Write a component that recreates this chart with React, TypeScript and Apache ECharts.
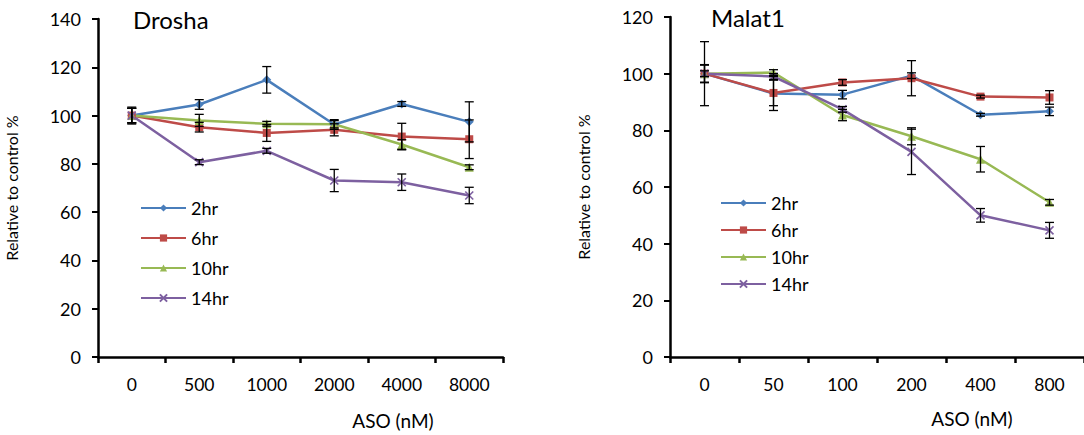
import React, { useEffect, useRef } from 'react';
import * as echarts from 'echarts';

const droshaCategories = ['0', '500', '1000', '2000', '4000', '8000'];
const malatCategories = ['0', '50', '100', '200', '400', '800'];
const seriesNames = ['2hr', '6hr', '10hr', '14hr'];

const drosha2hr = [100, 104.6, 114.8, 96.3, 104.8, 97.4];
const drosha2hrErr = [3, 2, 5.5, 2, 1, 8.3];
const drosha6hr = [100, 95.2, 92.8, 94.1, 91.3, 90.2];
const drosha6hrErr = [3, 2, 3.5, 2.5, 5.5, 8];
const drosha10hr = [100, 98, 96.6, 96.4, 88, 78.6];
const drosha10hrErr = [3, 2.5, 1, 1.5, 2, 1];
const drosha14hr = [100, 80.7, 85.4, 73.1, 72.4, 66.9];
const drosha14hrErr = [3.5, 1, 1, 4.6, 3.4, 3.4];

const malat2hr = [100, 93, 92.6, 99.3, 85.5, 86.7];
const malat2hrErr = [3.2, 6, 1.5, 1, 0.5, 1.5];
const malat6hr = [100, 93.2, 96.9, 98.4, 91.9, 91.6];
const malat6hrErr = [11.3, 4.5, 1, 6.2, 0.5, 2.4];
const malat10hr = [100, 100.4, 85.4, 77.9, 69.8, 54.6];
const malat10hrErr = [1, 1, 2, 3, 4.5, 1];
const malat14hr = [100, 99, 87.4, 72.4, 50, 44.7];
const malat14hrErr = [3, 1, 1, 8, 2.4, 2.8];

const colors = ['#4A7EBB', '#BE4B48', '#98B954', '#7D60A0'];
const symbols = ['diamond', 'rect', 'triangle', 'path://M0,0L10,10M0,10L10,0'];
const symbolSizes = [9, 8, 9, 8];
const FONT = 'Lato, "Open Sans", sans-serif';

function lineSeries(idx: number, axis: number, values: number[]) {
  return {
    type: 'line',
    name: seriesNames[idx],
    xAxisIndex: axis,
    yAxisIndex: axis,
    data: values,
    symbol: symbols[idx],
    symbolSize: symbolSizes[idx],
    showSymbol: true,
    z: 4,
    lineStyle: { color: colors[idx], width: 2.5 },
    itemStyle: { color: colors[idx], borderColor: colors[idx], borderWidth: idx === 3 ? 1.6 : 0 },
  };
}

function errorSeries(axis: number, values: number[], errs: number[]) {
  const data = values.map((v, i) => [i, v - errs[i], v + errs[i]]);
  return {
    type: 'custom',
    xAxisIndex: axis,
    yAxisIndex: axis,
    data,
    silent: true,
    z: 5,
    encode: { x: 0, y: [1, 2] },
    renderItem: (params: any, api: any) => {
      const x = api.value(0);
      const lo = api.coord([x, api.value(1)]);
      const hi = api.coord([x, api.value(2)]);
      const w = 4.5;
      const st = { stroke: '#000', lineWidth: 1.3 };
      return {
        type: 'group',
        children: [
          { type: 'line', shape: { x1: lo[0], y1: lo[1], x2: hi[0], y2: hi[1] }, style: st },
          { type: 'line', shape: { x1: lo[0] - w, y1: lo[1], x2: lo[0] + w, y2: lo[1] }, style: st },
          { type: 'line', shape: { x1: hi[0] - w, y1: hi[1], x2: hi[0] + w, y2: hi[1] }, style: st },
        ],
      };
    },
  };
}

function xAxisDef(gridIndex: number, cats: string[]) {
  return {
    type: 'category',
    gridIndex,
    data: cats,
    boundaryGap: true,
    axisLine: { show: true, lineStyle: { color: '#000', width: 2.5 } },
    axisTick: { show: true, inside: false, length: 6, alignWithLabel: false, lineStyle: { color: '#000', width: 2.5 } },
    axisLabel: { color: '#000', fontSize: 17.5, fontFamily: FONT, margin: 18 },
    splitLine: { show: false },
  };
}

function yAxisDef(gridIndex: number, max: number) {
  return {
    type: 'value',
    gridIndex,
    min: 0,
    max,
    interval: 20,
    name: 'Relative to control %',
    nameLocation: 'middle',
    nameGap: 79,
    nameTextStyle: { color: '#000', fontSize: 16, fontFamily: FONT },
    axisLine: { show: true, lineStyle: { color: '#000', width: 2.5 } },
    axisTick: { show: true, inside: false, length: 6, lineStyle: { color: '#000', width: 2 } },
    axisLabel: { color: '#000', fontSize: 18, fontFamily: FONT, margin: 17 },
    splitLine: { show: false },
  };
}

function legendDef(left: number, top: number, gap: number) {
  return {
    orient: 'vertical',
    left,
    top,
    data: seriesNames,
    itemWidth: 45,
    itemHeight: 9,
    itemGap: gap,
    padding: 0,
    textStyle: { color: '#000', fontSize: 18, fontFamily: FONT, lineHeight: 18, padding: [0, 0, 0, 0] },
  };
}

export default function App() {
  const ref = useRef<HTMLDivElement>(null);
  useEffect(() => {
    if (!ref.current) return;
    const chart = echarts.init(ref.current, undefined, { renderer: 'svg' });
    chart.setOption({
      animation: false,
      backgroundColor: '#fff',
      title: [
        { text: 'Drosha', left: 133, top: 7, padding: 0, textStyle: { fontSize: 24, fontWeight: 'normal', color: '#000', fontFamily: FONT } },
        { text: 'Malat1', left: 711, top: 5, padding: 0, textStyle: { fontSize: 24, fontWeight: 'normal', color: '#000', fontFamily: FONT } },
      ],
      grid: [
        { left: 98, top: 19, width: 405, height: 338 },
        { left: 670, top: 17, width: 419, height: 340 },
      ],
      xAxis: [xAxisDef(0, droshaCategories), xAxisDef(1, malatCategories)],
      yAxis: [yAxisDef(0, 140), yAxisDef(1, 120)],
      legend: [legendDef(140, 199, 12), legendDef(720, 194, 9)],
      graphic: [
        { type: 'text', x: 393, y: 420, style: { text: 'ASO (nM)', fill: '#000', fontSize: 19, fontFamily: FONT, textAlign: 'center', textVerticalAlign: 'middle' } },
        { type: 'text', x: 972, y: 418, style: { text: 'ASO (nM)', fill: '#000', fontSize: 19, fontFamily: FONT, textAlign: 'center', textVerticalAlign: 'middle' } },
      ],
      series: [
        lineSeries(0, 0, drosha2hr),
        lineSeries(1, 0, drosha6hr),
        lineSeries(2, 0, drosha10hr),
        lineSeries(3, 0, drosha14hr),
        errorSeries(0, drosha2hr, drosha2hrErr),
        errorSeries(0, drosha6hr, drosha6hrErr),
        errorSeries(0, drosha10hr, drosha10hrErr),
        errorSeries(0, drosha14hr, drosha14hrErr),
        lineSeries(0, 1, malat2hr),
        lineSeries(1, 1, malat6hr),
        lineSeries(2, 1, malat10hr),
        lineSeries(3, 1, malat14hr),
        errorSeries(1, malat2hr, malat2hrErr),
        errorSeries(1, malat6hr, malat6hrErr),
        errorSeries(1, malat10hr, malat10hrErr),
        errorSeries(1, malat14hr, malat14hrErr),
      ],
    });
    return () => chart.dispose();
  }, []);
  return <div ref={ref} style={{ position: 'absolute', left: 0, top: 0, width: 1084, height: 435 }} />;
}
